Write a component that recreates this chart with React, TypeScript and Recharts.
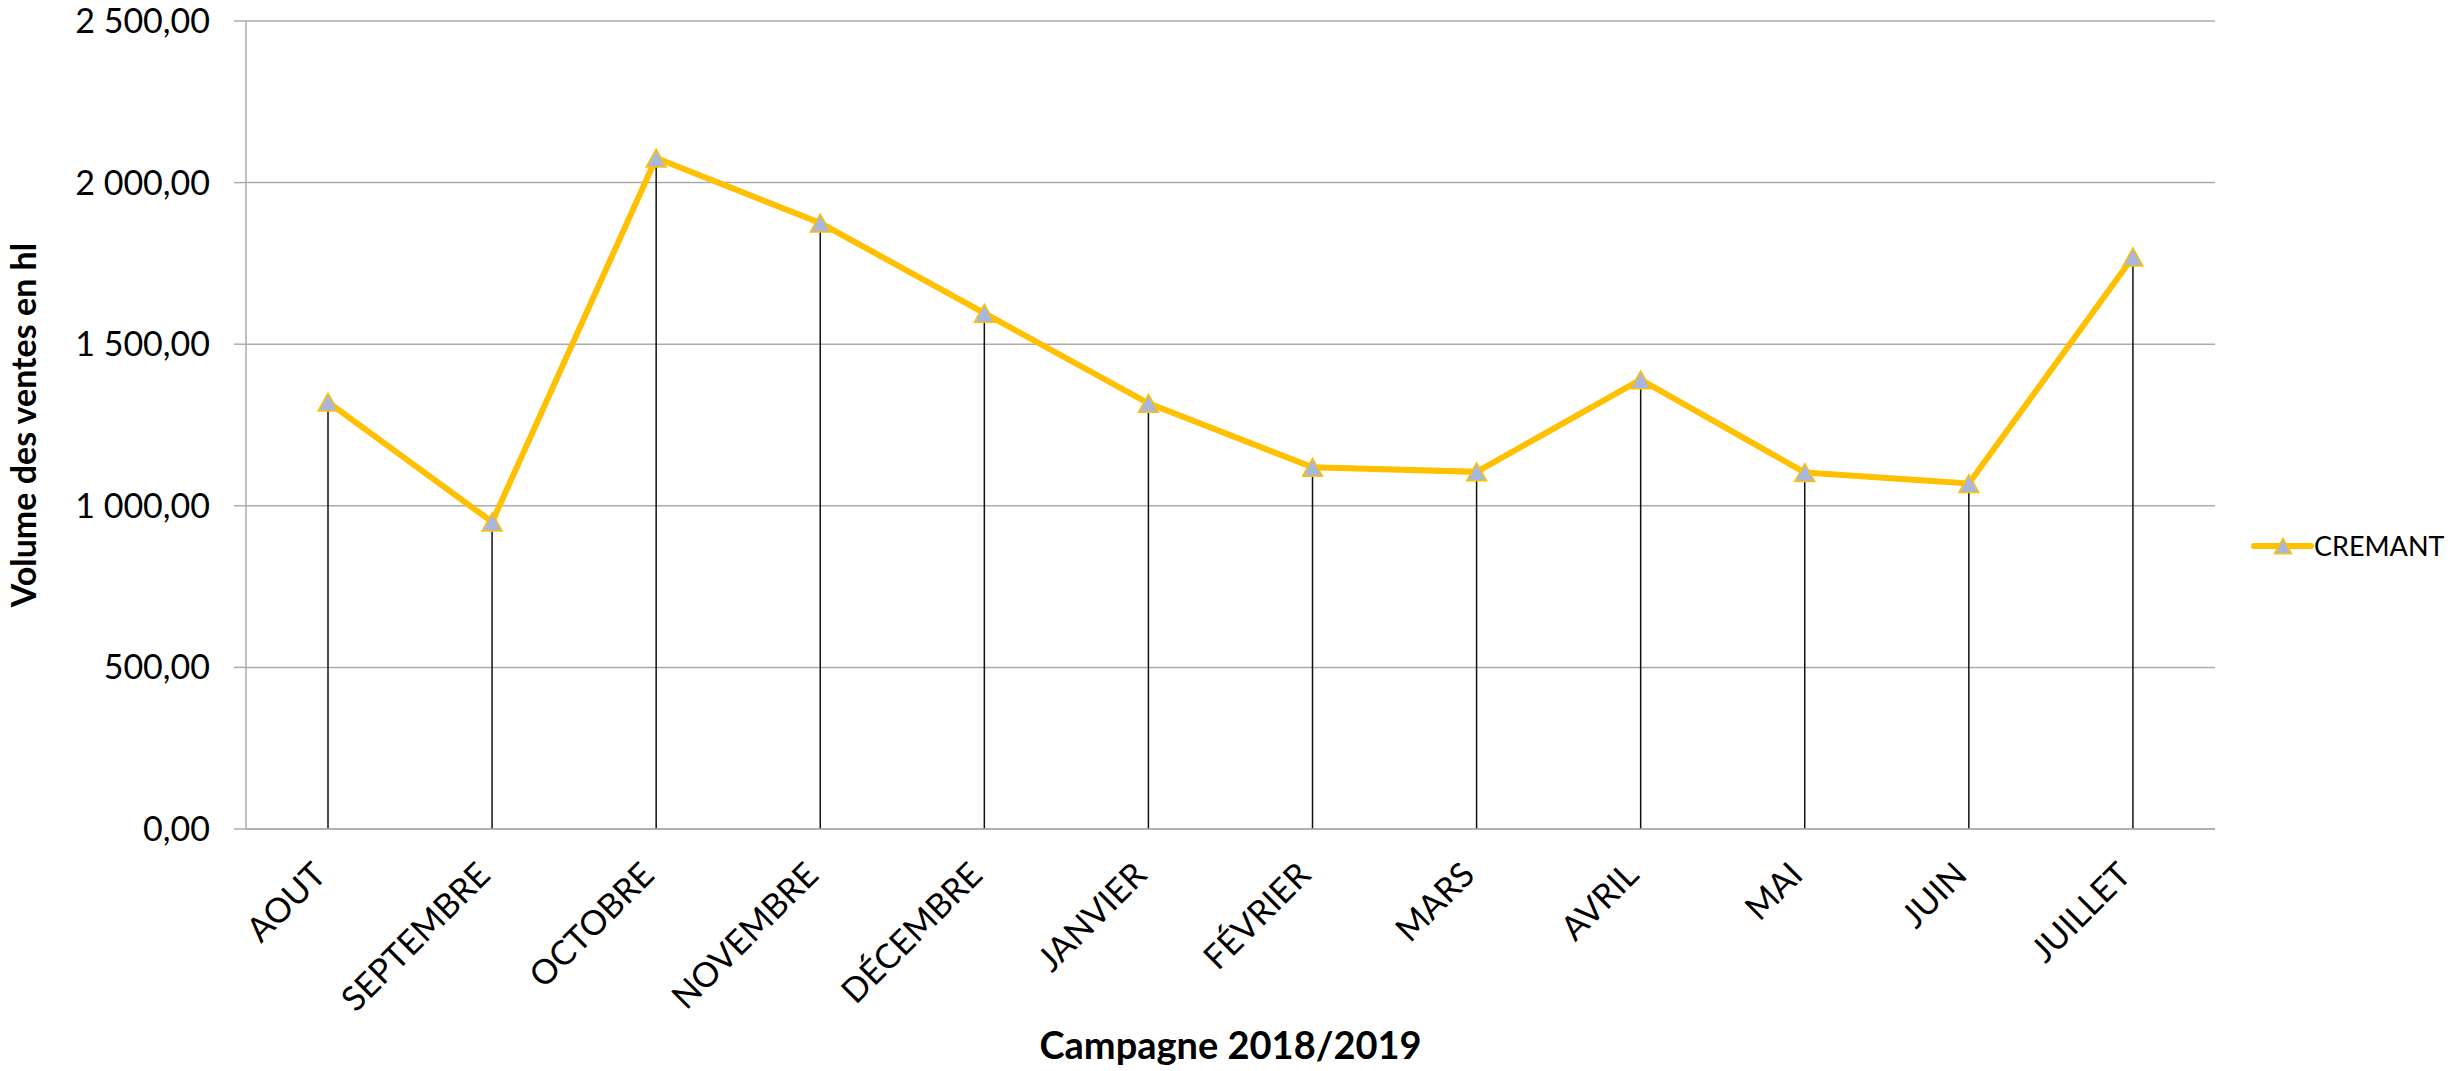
import React from 'react'
import { ComposedChart, Line, Bar, XAxis, YAxis, CartesianGrid } from 'recharts'

const MONTHS = [
  'AOUT', 'SEPTEMBRE', 'OCTOBRE', 'NOVEMBRE', 'DÉCEMBRE', 'JANVIER',
  'FÉVRIER', 'MARS', 'AVRIL', 'MAI', 'JUIN', 'JUILLET',
]
const CREMANT = [1321, 950, 2076, 1875, 1596, 1317, 1119, 1105, 1390, 1103, 1069, 1770]
const Y_TICKS = [0, 500, 1000, 1500, 2000, 2500]

const data = MONTHS.map((m, i) => ({ month: m, cremant: CREMANT[i] }))

const FONT = "Lato, 'Open Sans', sans-serif"
const YELLOW = '#FFC000'
const MARKER = '#A9B7DB'
const GRID = '#ababab'

function frNum(v: number) {
  const [int, dec] = v.toFixed(2).split('.')
  return int.replace(/\B(?=(\d{3})+(?!\d))/g, ' ') + ',' + dec
}

function Triangle({ cx, cy, size = 20 }: { cx: number; cy: number; size?: number }) {
  const h = size * 0.9
  return (
    <path
      d={`M${cx},${cy - h / 2} L${cx + size / 2},${cy + h / 2} L${cx - size / 2},${cy + h / 2} Z`}
      fill={MARKER}
      stroke={YELLOW}
      strokeWidth={1.5}
    />
  )
}

const MonthTick = (props: any) => {
  const { x, y, payload } = props
  const ax = x
  const ay = y + 40
  return (
    <text
      x={ax}
      y={ay}
      textAnchor="end"
      transform={`rotate(-45 ${ax} ${ay})`}
      fontSize={34}
      fontFamily={FONT}
      fill="#000"
    >
      {payload.value}
    </text>
  )
}

const DropLine = (props: any) => {
  const { x, y, width, height } = props
  const cx = x + width / 2
  return <line x1={cx} x2={cx} y1={y} y2={y + height} stroke="#111" strokeWidth={1.5} />
}

export default function App() {
  return (
    <div style={{ position: 'absolute', left: 0, top: 0, width: 2461, height: 1071, background: '#fff' }}>
      <ComposedChart
        width={2461}
        height={1071}
        data={data}
        margin={{ top: 21, right: 246, bottom: 0, left: 0 }}
      >
        <CartesianGrid horizontal vertical={false} stroke={GRID} strokeWidth={1.5} />
        <XAxis
          dataKey="month"
          height={242}
          axisLine={{ stroke: GRID, strokeWidth: 1.5 }}
          tickLine={false}
          interval={0}
          tick={<MonthTick />}
          label={{
            content: ({ viewBox }: any) => (
              <text
                x={viewBox.x + viewBox.width / 2}
                y={1046}
                dy="0.355em"
                textAnchor="middle"
                fontSize={38}
                fontWeight={700}
                fontFamily={FONT}
                fill="#000"
              >
                Campagne 2018/2019
              </text>
            ),
          }}
        />
        <YAxis
          width={246}
          domain={[0, 2500]}
          ticks={Y_TICKS}
          tickFormatter={frNum}
          axisLine={{ stroke: GRID, strokeWidth: 1.5 }}
          tickLine={{ stroke: GRID, strokeWidth: 1.5 }}
          tickSize={12}
          tickMargin={24}
          tick={{ fontSize: 34, fontFamily: FONT, fill: '#000' }}
          label={{
            content: ({ viewBox }: any) => {
              const cy = viewBox.y + viewBox.height / 2
              return (
                <text
                  x={24}
                  y={cy}
                  dy="0.355em"
                  textAnchor="middle"
                  transform={`rotate(-90 24 ${cy})`}
                  fontSize={34}
                  fontWeight={700}
                  fontFamily={FONT}
                  fill="#000"
                >
                  Volume des ventes en hl
                </text>
              )
            },
          }}
        />
        <Line
          dataKey="cremant"
          name="CREMANT"
          type="linear"
          stroke={YELLOW}
          strokeWidth={6}
          dot={(p: any) => <Triangle key={p.index} cx={p.cx} cy={p.cy} />}
          activeDot={false}
          isAnimationActive={false}
        />
        <Bar
          dataKey="cremant"
          legendType="none"
          barSize={4}
          shape={<DropLine />}
          isAnimationActive={false}
        />
      </ComposedChart>
      {/* legend, placed by hand like Excel's right-hand legend */}
      <svg
        width={210}
        height={40}
        style={{ position: 'absolute', left: 2250, top: 526, overflow: 'visible' }}
      >
        <line x1={4} x2={61} y1={20} y2={20} stroke={YELLOW} strokeWidth={6} strokeLinecap="round" />
        <Triangle cx={33} cy={20} size={17} />
        <text x={64} y={20} dy="0.355em" fontSize={27} fontFamily={FONT} fill="#000">
          CREMANT
        </text>
      </svg>
    </div>
  )
}
